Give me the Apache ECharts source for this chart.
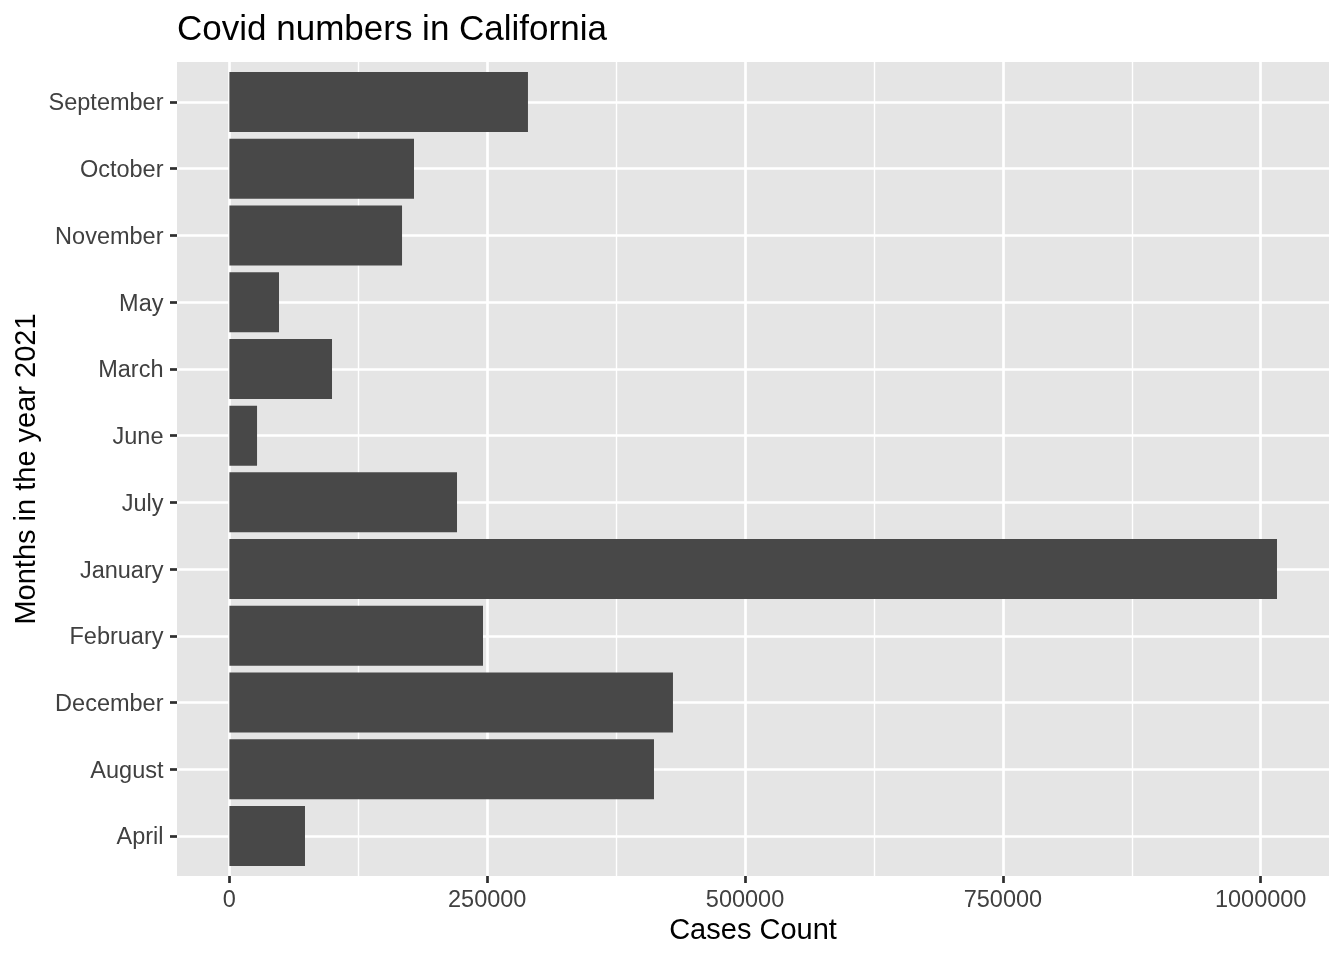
<!DOCTYPE html>
<html>
<head>
<meta charset="utf-8">
<title>Covid numbers in California</title>
<script src="https://cdn.jsdelivr.net/npm/echarts@6/dist/echarts.min.js"></script>
<style>
  html, body { margin: 0; padding: 0; background: #fff; }
  #chart { width: 1344px; height: 960px; }
</style>
</head>
<body>
<div id="chart"></div>
<script>
// months as ggplot sorted them (first one is drawn at the bottom)
var months = ['April', 'August', 'December', 'February', 'January', 'July',
              'June', 'March', 'May', 'November', 'October', 'September'];
// cases per month
var cases = [73300, 411700, 430100, 245900, 1015800, 220700,
             26800, 99500, 48100, 167400, 179000, 289500];
var xTicks = [0, 250000, 500000, 750000, 1000000];

var FONT = '"Liberation Sans", Arial, Helvetica, sans-serif';
var PANEL = '#E5E5E5';
var GRID_LINE = '#FFFFFF';
var TEXT = '#404040';
var TICK = '#2E2E2E';

// panel and data area (ggplot pads the panel around the data)
var panel = { left: 177, right: 15, top: 62, bottom: 84 };
var dataX = { left: 229.4, right: 83.3 };   // 0 .. 1000000
var dataY = { top: 102, bottom: 124 };      // April .. September centres

var chart = echarts.init(document.getElementById('chart'));

var option = {
  backgroundColor: '#fff',
  animation: false,
  textStyle: { fontFamily: FONT },
  title: {
    text: 'Covid numbers in California',
    left: 172,
    top: 8,
    textStyle: { fontFamily: FONT, fontSize: 35, fontWeight: 'normal', color: '#000' }
  },
  grid: [
    // 0: grey panel, also holds the axis titles
    { left: panel.left, right: panel.right, top: panel.top, bottom: panel.bottom,
      show: true, backgroundColor: PANEL, borderWidth: 0, outerBoundsMode: 'none' },
    // 1: vertical grid lines and x labels
    { left: dataX.left, right: dataX.right, top: panel.top, bottom: panel.bottom, outerBoundsMode: 'none' },
    // 2: horizontal grid lines and month labels
    { left: panel.left, right: panel.right, top: dataY.top, bottom: dataY.bottom, outerBoundsMode: 'none' },
    // 3: bars
    { left: dataX.left, right: dataX.right, top: dataY.top, bottom: dataY.bottom, outerBoundsMode: 'none' }
  ],
  xAxis: [
    {
      gridIndex: 0, type: 'value', min: 0, max: 1,
      name: 'Cases Count', nameLocation: 'middle', nameGap: 40,
      nameTextStyle: { fontFamily: FONT, fontSize: 29, color: '#000' },
      axisLine: { show: false }, axisTick: { show: false },
      axisLabel: { show: false }, splitLine: { show: false }
    },
    {
      gridIndex: 1, type: 'value',
      min: xTicks[0], max: xTicks[xTicks.length - 1],
      interval: xTicks[1] - xTicks[0],
      axisLine: { show: false },
      axisTick: { show: true, length: 7, lineStyle: { color: TICK, width: 2.7 } },
      axisLabel: {
        margin: 13, fontFamily: FONT, fontSize: 23.5, color: TEXT,
        formatter: function (v) { return String(v); }
      },
      splitLine: { show: true, lineStyle: { color: GRID_LINE, width: 2.7 } },
      minorTick: { show: false, splitNumber: 2 },
      minorSplitLine: { show: true, lineStyle: { color: GRID_LINE, width: 1.4 } }
    },
    { gridIndex: 2, type: 'value', min: 0, max: 1, show: false },
    {
      gridIndex: 3, type: 'value',
      min: xTicks[0], max: xTicks[xTicks.length - 1],
      show: false
    }
  ],
  yAxis: [
    {
      gridIndex: 0, type: 'value', min: 0, max: 1,
      name: 'Months in the year 2021', nameLocation: 'middle', nameGap: 136, nameRotate: 90,
      nameTextStyle: { fontFamily: FONT, fontSize: 29, color: '#000' },
      axisLine: { show: false }, axisTick: { show: false },
      axisLabel: { show: false }, splitLine: { show: false }
    },
    { gridIndex: 1, type: 'value', min: 0, max: 1, show: false },
    {
      gridIndex: 2, type: 'category', data: months, boundaryGap: false,
      axisLine: { show: false },
      axisTick: { show: true, length: 7, interval: 0, lineStyle: { color: TICK, width: 2.7 } },
      axisLabel: {
        interval: 0, margin: 13.5,
        formatter: function (v) { return '{m|' + v + '}'; },
        rich: {
          m: { fontFamily: FONT, fontSize: 23.5, color: TEXT, padding: [4, 0, 0, 0] }
        }
      },
      splitLine: { show: true, interval: 0, lineStyle: { color: GRID_LINE, width: 2.7 } }
    },
    {
      gridIndex: 3, type: 'category', data: months, boundaryGap: false,
      show: false
    }
  ],
  series: [
    {
      name: 'Cases',
      type: 'bar',
      xAxisIndex: 3,
      yAxisIndex: 3,
      data: cases,
      barWidth: 60,
      clip: false,
      itemStyle: { color: '#484848' }
    }
  ]
};

chart.setOption(option);
window.onresize = chart.resize;
</script>
</body>
</html>
